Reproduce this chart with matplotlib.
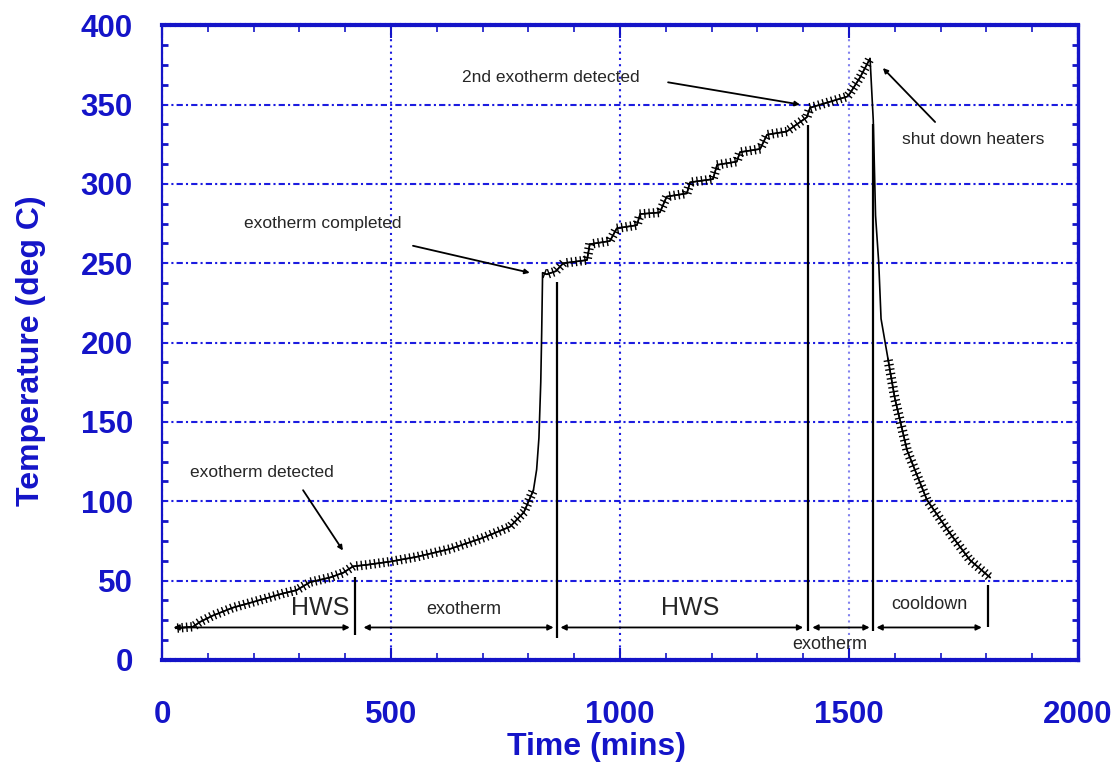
import matplotlib
matplotlib.use('Agg')
import matplotlib.pyplot as plt
import matplotlib.patheffects as pe
from matplotlib.ticker import MultipleLocator

# temperature record
time_min = [30, 68, 83, 111, 155, 192, 229, 265, 294, 323, 367, 396, 417, 448, 498,
            556, 629, 701, 760, 790, 811, 818, 823, 827, 829, 831, 840, 860, 876, 928,
            934, 978, 993, 1037, 1044, 1087, 1102, 1146, 1153, 1203, 1212, 1255, 1262,
            1306, 1321, 1364, 1408, 1415, 1496, 1502, 1524, 1546, 1553, 1558, 1565,
            1570, 1585, 1600, 1627, 1670, 1720, 1764, 1808]
temp_c = [20, 21, 24, 28, 33, 36, 39, 42, 44, 49, 52, 55, 59, 60, 62,
          65, 70, 77, 84, 93, 107, 120, 140, 175, 206, 244, 243, 245, 250, 252,
          262, 264, 272, 274, 281, 282, 292, 294, 301, 303, 312, 314, 320,
          322, 331, 333, 342, 348, 355, 357, 367, 379, 340, 280, 250,
          215, 190, 165, 132, 101, 80, 63, 52]

# index ranges that show the jagged (hatched) trace; the steep bits are plain
hatched_parts = [(0, 21), (25, 52), (56, 63)]

# phase boundaries (vertical lines)
bound_t = [421, 862, 1411, 1552, 1803]
bound_top = [52, 238, 337, 338, 47]
bound_bot = [16, 14, 18, 18, 21]

# phase spans
phase_names = ['HWS', 'exotherm', 'HWS', 'exotherm', 'cooldown']
phase_start = [25, 440, 870, 1420, 1560]
phase_end = [410, 855, 1400, 1545, 1790]
phase_lbl_x = [345, 659, 1153, 1459, 1675]
phase_lbl_y = [33, 32, 33, 9.5, 35]
phase_lbl_size = [18, 13, 18, 13, 13]
phase_y = 20.5

# annotations
note_text = ['exotherm detected', 'exotherm completed', '2nd exotherm detected', 'shut down heaters']
note_x = [218, 352, 849, 1771]
note_y = [118, 275, 367, 328]
note_tail = [(308, 107), (548, 261), (1105, 364), (1688, 339)]
note_tip = [(395, 69), (803, 244), (1393, 350), (1574, 373)]

BLUE = '#1414c8'
GRID = '#1c1ce0'
INK = '#262626'

plt.rcParams['font.family'] = ['Liberation Sans', 'DejaVu Sans']

fig = plt.figure(figsize=(11.15, 7.63), dpi=100)
ax = fig.add_axes([0.1453, 0.135, 0.8215, 0.832])

ax.plot(time_min, temp_c, color='black', lw=1.2)
hatch = [pe.TickedStroke(spacing=3.2, angle=90, length=0.9, linewidth=1.0),
         pe.TickedStroke(spacing=3.2, angle=-90, length=0.9, linewidth=1.0),
         pe.Normal()]
for a, b in hatched_parts:
    ax.plot(time_min[a:b], temp_c[a:b], color='black', lw=1.0, path_effects=hatch)

ax.vlines(bound_t, bound_bot, bound_top, color='black', lw=1.6)

for s, e in zip(phase_start, phase_end):
    ax.annotate('', xy=(e, phase_y), xytext=(s, phase_y),
                arrowprops=dict(arrowstyle='<|-|>', color='black', lw=1.3,
                                mutation_scale=8, shrinkA=0, shrinkB=0))
for name, x, y, fs in zip(phase_names, phase_lbl_x, phase_lbl_y, phase_lbl_size):
    ax.text(x, y, name, ha='center', va='center', fontsize=fs, color=INK)

for txt, x, y, tail, tip in zip(note_text, note_x, note_y, note_tail, note_tip):
    ax.text(x, y, txt, ha='center', va='center', fontsize=12.5, color=INK)
    ax.annotate('', xy=tip, xytext=tail,
                arrowprops=dict(arrowstyle='-|>', color='black', lw=1.3,
                                mutation_scale=7, shrinkA=0, shrinkB=0))

ax.set_xlim(0, 2000)
ax.set_ylim(0, 400)
ax.set_xticks(range(0, 2001, 500))
ax.set_yticks(range(0, 401, 50))
ax.xaxis.set_minor_locator(MultipleLocator(100))
ax.yaxis.set_minor_locator(MultipleLocator(12.5))

ax.tick_params(axis='both', which='both', direction='in', colors=BLUE, labelsize=22.5)
ax.tick_params(axis='x', which='major', length=9, width=1.5, pad=29, top=True)
ax.tick_params(axis='x', which='minor', length=5, width=1.2, top=True)
ax.tick_params(axis='y', which='major', length=0, pad=21)
ax.tick_params(axis='y', which='minor', length=4, width=2, right=True)
for lab in ax.get_xticklabels() + ax.get_yticklabels():
    lab.set_fontweight('bold')

ax.yaxis.grid(True, color=GRID, lw=1.5, linestyle=(0, (3, 1.5, 1, 1.5)))
ax.xaxis.grid(True, color=GRID, lw=1.5, linestyle=(0, (1, 2)))
ax.get_xgridlines()[3].set_alpha(0.55)
ax.set_axisbelow(True)

ax.spines['left'].set_color(BLUE)
ax.spines['left'].set_linewidth(1.6)
ax.spines['right'].set_color(BLUE)
ax.spines['right'].set_linewidth(2.4)
for side in ['top', 'bottom']:
    ax.spines[side].set_color(BLUE)
    ax.spines[side].set_linewidth(3)
    ax.spines[side].set_linestyle((0, (0.4, 0.8)))

ax.set_xlabel('Time (mins)', fontsize=23, fontweight='bold', color=BLUE)
ax.set_ylabel('Temperature (deg C)', fontsize=23, fontweight='bold', color=BLUE)
ax.xaxis.set_label_coords(0.474, -0.113)
ax.yaxis.set_label_coords(-0.127, 0.488)

fig.savefig('out.png', dpi=100)
